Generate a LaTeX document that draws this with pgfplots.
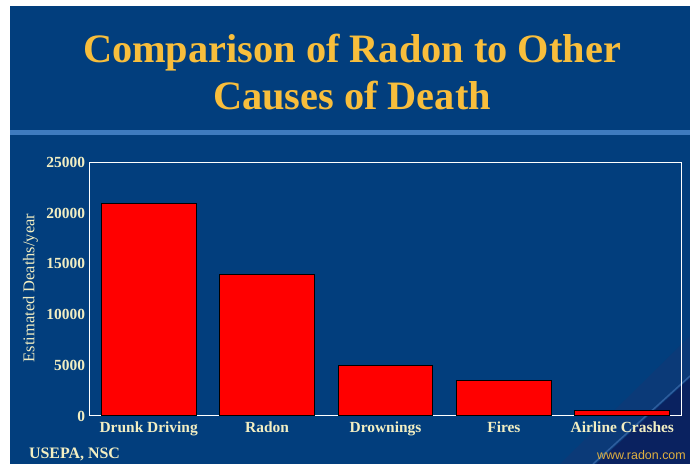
\documentclass[border=0pt]{standalone}
\usepackage{pgfplots}
\pgfplotsset{compat=1.18}
\usepackage{fontspec}
\setmainfont{Liberation Serif}
\newfontfamily\webfont{Liberation Sans}
\definecolor{bgblue}{HTML}{023E7D}
\definecolor{titlegold}{HTML}{F8BE3C}
\definecolor{labelyellow}{HTML}{F2EEC2}
\definecolor{lineblue}{HTML}{3F7BBF}
\definecolor{navy}{HTML}{0A2260}
\definecolor{midblue}{HTML}{0B3A78}
\definecolor{stripe}{HTML}{2E5E9E}
\definecolor{webgold}{HTML}{E0B040}
\begin{document}
\begin{tikzpicture}[x=1bp,y=1bp]
\fill[white] (0,0) rectangle (690,464);
\fill[bgblue] (10,0) rectangle (690,458);
% decorative corner
\fill[midblue] (560,0) -- (690,128) -- (690,0) -- cycle;
\fill[navy] (596,0) -- (690,86) -- (690,0) -- cycle;
\draw[stripe, line width=1.5bp] (593,0) -- (690,88);
% title rule
\fill[lineblue] (10,329) rectangle (690,334);
% title
\node[anchor=base, text=titlegold, font=\fontsize{40.5}{48}\selectfont\bfseries] at (352,401) {Comparison of Radon to Other};
\node[anchor=base, text=titlegold, font=\fontsize{40.5}{48}\selectfont\bfseries] at (352,354) {Causes of Death};
\begin{axis}[
  at={(89.5bp,48bp)}, anchor=south west,
  width=592bp, height=253.5bp, scale only axis,
  xmin=-0.5, xmax=4.5, ymin=0, ymax=25000,
  axis line style={white, line width=1bp},
  major tick length=0pt,
  xtick={0,1,2,3,4},
  xticklabels={Drunk Driving, Radon, Drownings, Fires, Airline Crashes},
  ytick={0,5000,10000,15000,20000,25000},
  scaled ticks=false,
  /pgf/number format/assume math mode=true,
  /pgf/number format/set thousands separator={},
  tick label style={text=labelyellow, font=\fontsize{15.5}{18}\selectfont\bfseries},
  yticklabel style={xshift=-1bp},
  xticklabel style={yshift=-2bp},
  ylabel={Estimated Deaths/year},
  every axis y label/.style={at={(axis description cs:-0.0997,0.505)}, rotate=90, anchor=center, text=labelyellow, font=\fontsize{16.5}{19}\selectfont},
  ybar, bar width=0.8,
]
\addplot[fill=red, draw=black, line width=1bp] coordinates {(0,21000) (1,14000) (2,5000) (3,3500) (4,500)};
\end{axis}
\node[anchor=base west, text=labelyellow, font=\fontsize{16}{19}\selectfont\bfseries] at (25.5,5) {USEPA, NSC};
\node[anchor=base west, text=webgold, font=\fontsize{12.5}{15}\webfont, inner sep=0pt] at (597,4.5) {www.radon.com};
\pgfresetboundingbox
\useasboundingbox (0,0) rectangle (690,464);
\end{tikzpicture}
\end{document}
